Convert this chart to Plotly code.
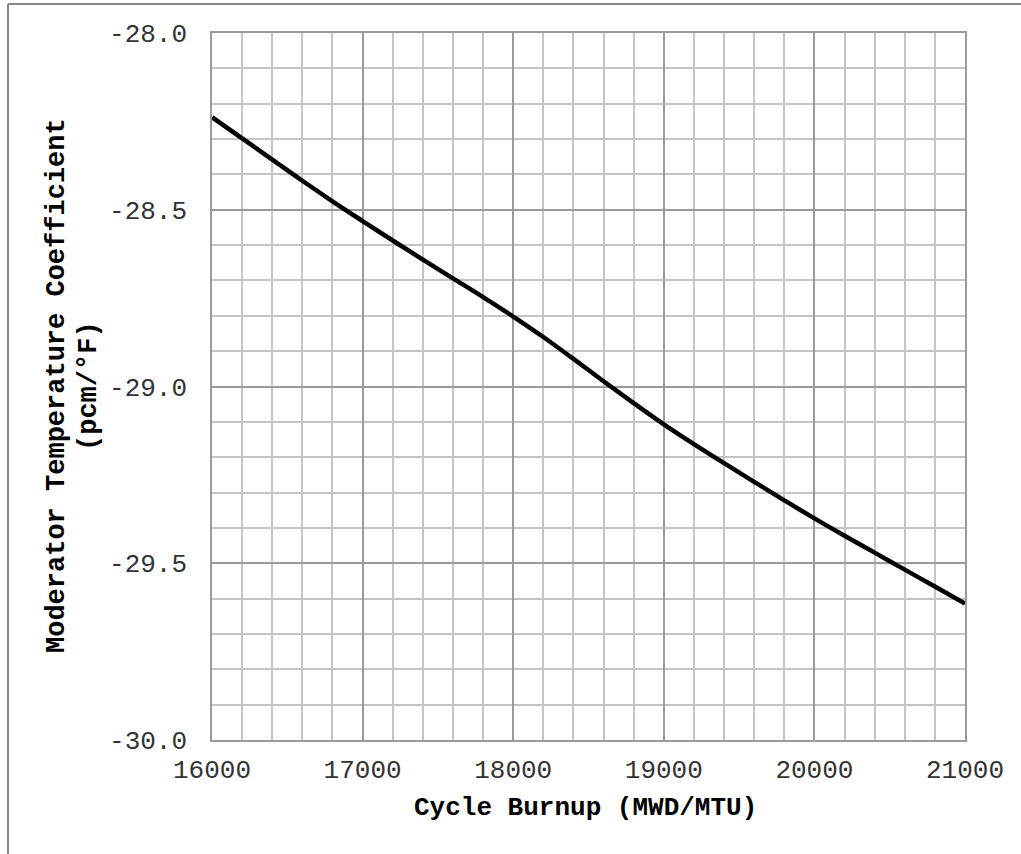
import plotly.graph_objects as go

burnup = [16000, 16200, 16400, 16600, 16800, 17000, 17200, 17400, 17600, 17800,
          18000, 18200, 18400, 18600, 18800, 19000, 19200, 19400, 19600, 19800,
          20000, 20200, 20400, 20600, 20800, 21000]
mtc = [-28.238, -28.298, -28.358, -28.418, -28.476, -28.532, -28.587, -28.641,
       -28.694, -28.747, -28.802, -28.860, -28.922, -28.985, -29.047, -29.107,
       -29.163, -29.217, -29.270, -29.322, -29.373, -29.422, -29.470, -29.518,
       -29.566, -29.614]

x_tick_vals = [16000, 17000, 18000, 19000, 20000, 21000]
x_tick_labels = ["16000", "17000", "18000", "19000", "20000", "21000"]
y_tick_vals = [-30.0, -29.5, -29.0, -28.5, -28.0]
y_tick_labels = ["-30.0", "-29.5", "-29.0", "-28.5", "-28.0"]

x_title = "Cycle Burnup (MWD/MTU)"
y_title_1 = "Moderator Temperature Coefficient"
y_title_2 = "(pcm/°F)"

FONT = "Liberation Mono, Courier New, monospace"
W, H = 1021, 854
L, R, T, B = 212, 56, 33, 114
PW, PH = W - L - R, H - T - B


def px2paper_x(px):
    return (px - L) / PW


def px2paper_y(py):
    return (H - B - py) / PH


fig = go.Figure()
fig.add_trace(go.Scatter(x=burnup, y=mtc, mode="lines",
                         line=dict(color="black", width=4.5, shape="spline", smoothing=1.0),
                         showlegend=False))

tick_font = dict(size=26, family=FONT, color="#333333")

fig.update_layout(
    width=W, height=H,
    margin=dict(l=L, r=R, t=T, b=B),
    paper_bgcolor="white", plot_bgcolor="white",
    font=dict(family=FONT, color="#222222", size=24),
    xaxis=dict(range=[16000, 21000], tickvals=x_tick_vals, ticktext=x_tick_labels,
               showgrid=True, gridcolor="#9a9a9a", gridwidth=1.5,
               minor=dict(dtick=200, showgrid=True, gridcolor="#c4c4c4", gridwidth=1.5),
               showline=True, linecolor="#9a9a9a", linewidth=1.5, mirror=True,
               ticks="", zeroline=False, tickfont=tick_font,
               ticklabelstandoff=5),
    yaxis=dict(range=[-30.0, -28.0], tickvals=y_tick_vals, ticktext=y_tick_labels,
               showgrid=True, gridcolor="#9a9a9a", gridwidth=1.5,
               minor=dict(dtick=0.1, showgrid=True, gridcolor="#c4c4c4", gridwidth=1.5),
               showline=True, linecolor="#9a9a9a", linewidth=1.5, mirror=True,
               ticks="", zeroline=False, tickfont=tick_font,
               ticklabelstandoff=18),
    annotations=[
        dict(text="<b>" + x_title + "</b>", xref="paper", yref="paper",
             x=px2paper_x(585), y=px2paper_y(808), xanchor="center", yanchor="middle",
             showarrow=False, font=dict(size=26, family=FONT, color="black")),
        dict(text="<b>" + y_title_1 + "</b>", xref="paper", yref="paper",
             x=px2paper_x(57), y=px2paper_y(386), xanchor="center", yanchor="middle",
             textangle=-90, showarrow=False, font=dict(size=27, family=FONT, color="black")),
        dict(text="<b>" + y_title_2 + "</b>", xref="paper", yref="paper",
             x=px2paper_x(89), y=px2paper_y(386), xanchor="center", yanchor="middle",
             textangle=-90, showarrow=False, font=dict(size=27, family=FONT, color="black")),
    ],
    shapes=[
        dict(type="line", xref="paper", yref="paper",
             x0=px2paper_x(8), y0=px2paper_y(4), x1=px2paper_x(1021), y1=px2paper_y(4),
             line=dict(color="#888888", width=2)),
        dict(type="line", xref="paper", yref="paper",
             x0=px2paper_x(8), y0=px2paper_y(4), x1=px2paper_x(8), y1=px2paper_y(854),
             line=dict(color="#888888", width=2)),
    ],
)

fig.write_html("out.html", config={"displayModeBar": False},
               post_script="document.body.style.margin='0px';")
